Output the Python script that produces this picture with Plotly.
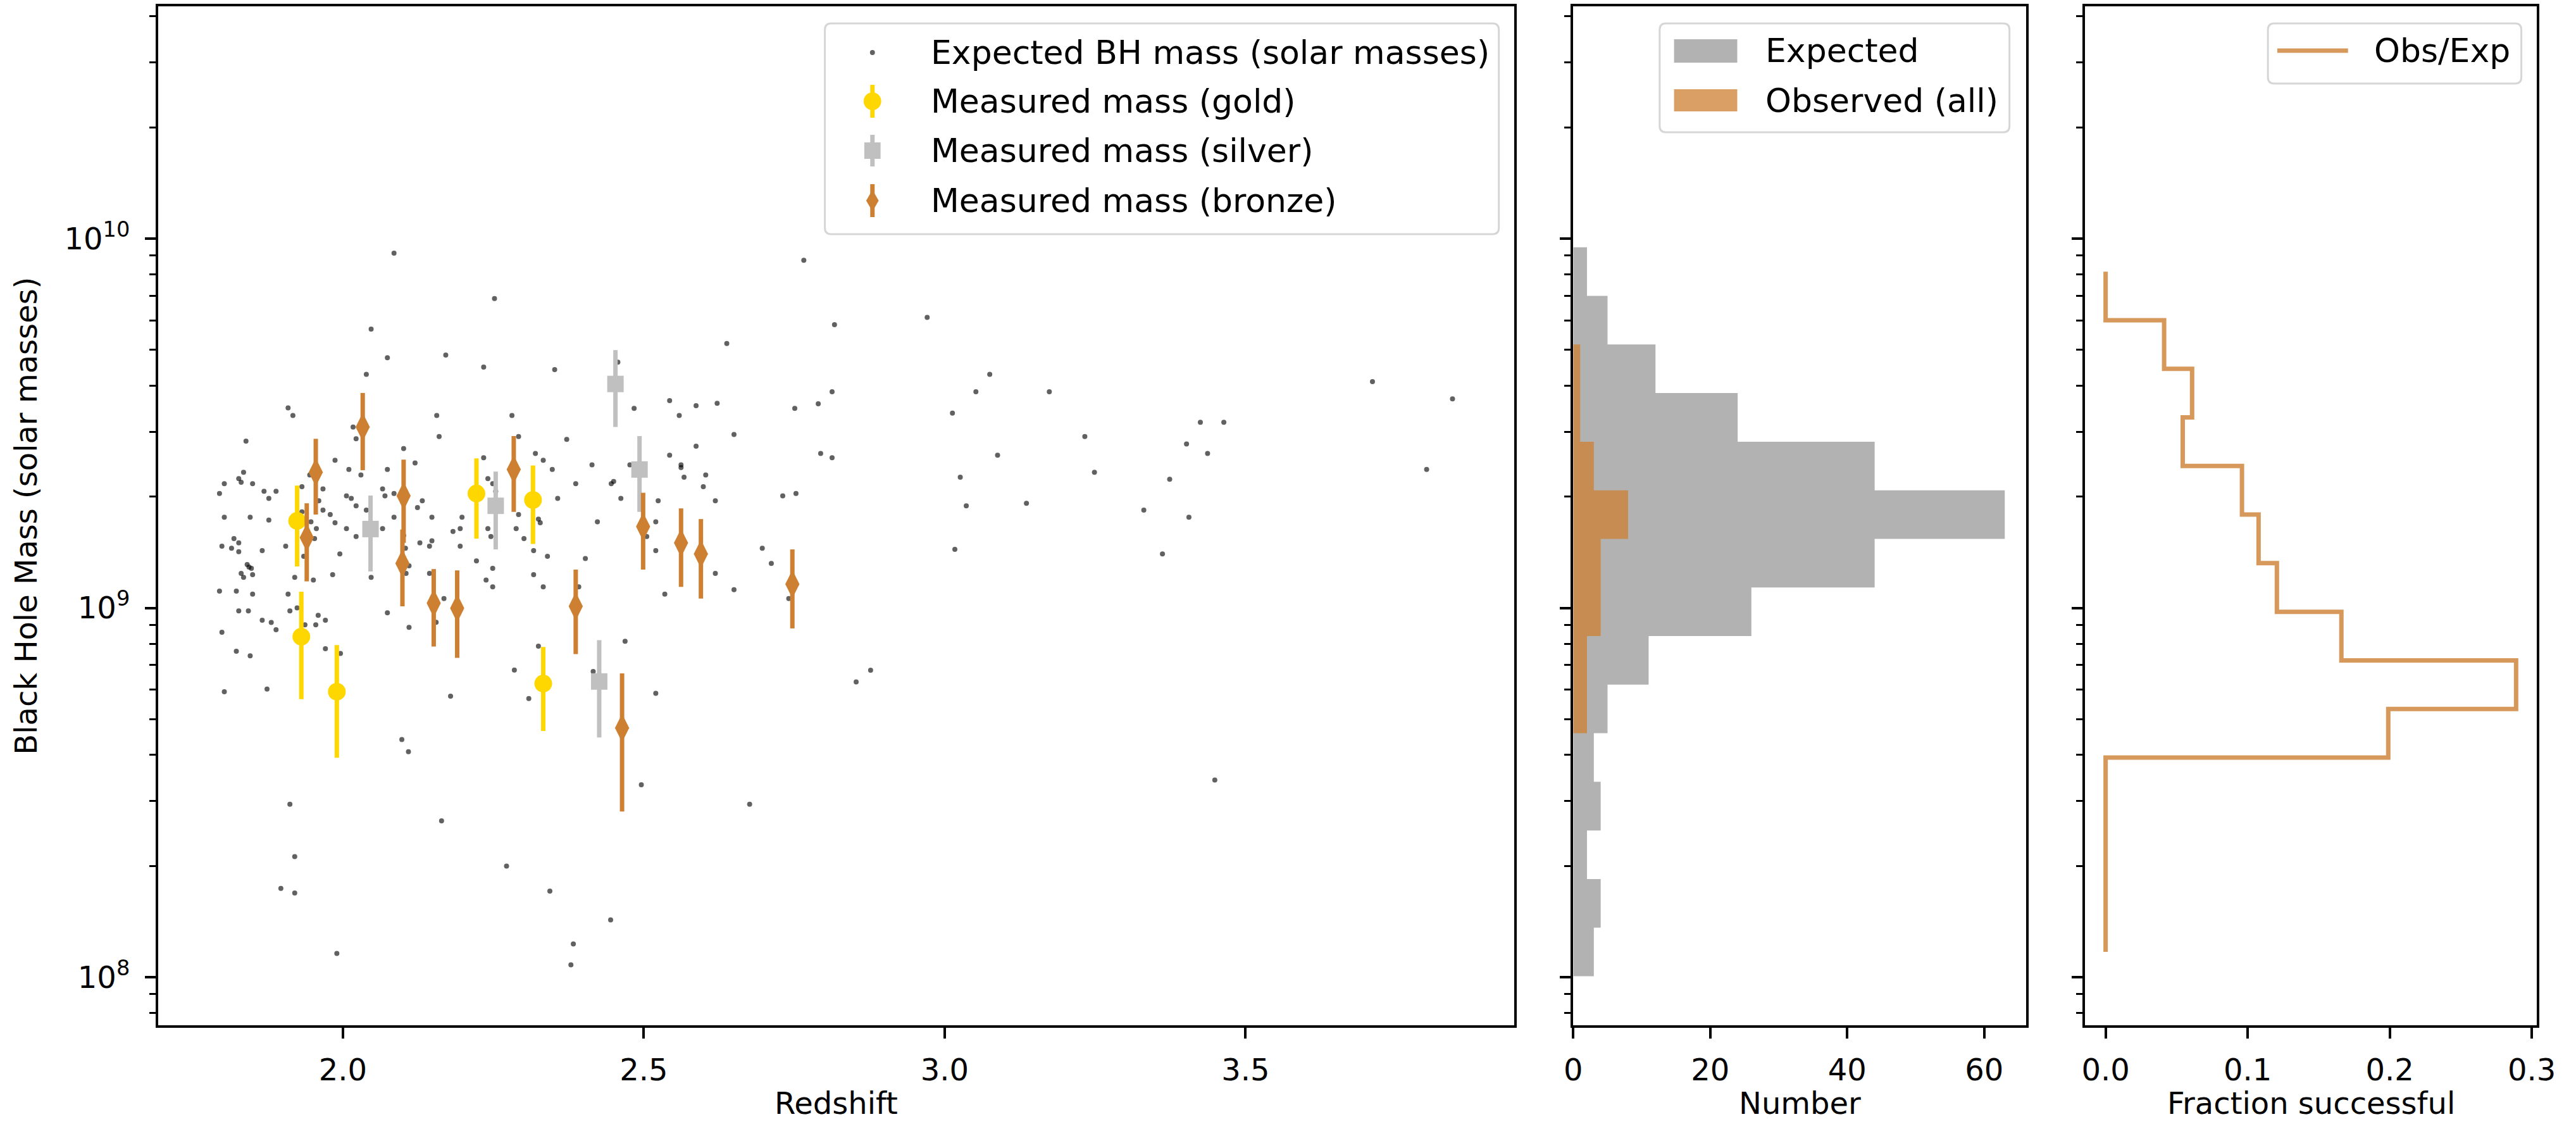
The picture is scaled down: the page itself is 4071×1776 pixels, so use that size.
import plotly.graph_objects as go

W, H = 4071, 1776

# ---------------- data ----------------
# Expected BH masses: redshift and mass (solar masses)
exp_z = [2.252, 2.047, 2.074, 2.171, 2.234, 2.039, 1.909, 1.917, 1.839, 2.156, 2.017, 2.022, 2.160, 2.101,
         1.987, 2.120, 2.234, 1.835, 2.010, 2.074, 2.030, 1.827, 1.831, 1.803, 1.850, 1.945, 1.932, 1.967,
         2.241, 2.249, 2.254, 1.795, 1.869, 1.889, 1.877, 2.066, 2.070, 2.085, 2.006, 2.014, 2.022, 1.960,
         1.967, 1.979, 1.932, 2.132, 2.124, 1.803, 1.846, 1.877, 1.947, 1.987, 2.085, 2.148, 2.198, 2.039,
         1.956, 2.006, 2.022, 2.066, 2.183, 2.195, 2.241, 2.246, 1.819, 1.827, 1.799, 1.815, 1.827, 1.866,
         1.905, 1.953, 1.935, 1.995, 2.128, 2.148, 2.144, 2.195, 2.104, 2.101, 2.222, 2.249, 1.841, 1.844,
         1.848, 1.831, 1.835, 1.850, 1.920, 1.951, 1.983, 2.047, 2.110, 2.105, 2.144, 2.238, 2.249, 1.795,
         1.823, 1.850, 1.909, 2.168, 1.827, 1.843, 1.912, 1.924, 1.959, 1.971, 1.866, 1.881, 1.889, 1.937,
         1.955, 2.074, 2.110, 2.155, 1.799, 1.823, 1.846, 1.971, 1.996, 1.803, 1.874, 2.179, 2.098, 2.109,
         2.638, 2.352, 2.457, 2.543, 2.587, 2.622, 2.484, 2.559, 2.751, 2.281, 2.650, 2.292, 2.372, 2.587,
         2.543, 2.320, 2.333, 2.348, 2.414, 2.562, 2.562, 2.567, 2.603, 2.599, 2.387, 2.446, 2.450, 2.357,
         2.462, 2.524, 2.619, 2.731, 2.753, 2.292, 2.325, 2.328, 2.423, 2.520, 2.477,
         2.288, 2.301, 2.317, 2.340, 2.403, 2.317, 2.333, 2.392, 2.505, 2.520, 2.697, 2.712, 2.619, 2.650,
         2.535, 2.741, 2.469, 2.325, 2.285, 2.309, 2.416, 2.520,
         2.766, 2.817, 2.971, 3.075, 2.813, 3.052, 3.174, 2.790, 3.013, 3.711, 3.844, 3.425, 3.464, 3.233,
         3.402, 3.437, 2.794, 2.813, 3.088, 3.801, 3.026, 3.249, 3.374, 3.036, 3.136, 3.331, 3.406, 3.017,
         3.362, 2.853, 2.877, 3.449, 2.085,
         2.496, 1.912, 2.676, 2.164, 1.920, 2.272, 1.897, 1.920, 2.344, 2.445, 2.383, 1.990, 2.379]
exp_mass = [6.88e9, 5.69e9, 4.76e9, 4.84e9, 4.49e9, 4.29e9, 3.48e9, 3.32e9, 2.83e9, 3.32e9, 3.09e9, 2.87e9, 2.91e9, 2.70e9,
            2.51e9, 2.47e9, 2.55e9, 2.33e9, 2.37e9, 2.37e9, 2.29e9, 2.24e9, 2.19e9, 2.17e9, 2.17e9, 2.29e9, 2.13e9, 2.10e9,
            2.24e9, 2.17e9, 2.07e9, 2.04e9, 2.07e9, 2.07e9, 1.98e9, 2.10e9, 2.01e9, 2.04e9, 2.01e9, 1.98e9, 1.89e9, 1.95e9,
            1.84e9, 1.79e9, 1.82e9, 1.95e9, 1.87e9, 1.76e9, 1.76e9, 1.73e9, 1.71e9, 1.70e9, 1.76e9, 1.76e9, 1.76e9, 1.84e9,
            1.64e9, 1.64e9, 1.56e9, 1.64e9, 1.61e9, 1.64e9, 1.64e9, 1.56e9, 1.54e9, 1.50e9, 1.47e9, 1.45e9, 1.42e9, 1.43e9,
            1.47e9, 1.54e9, 1.38e9, 1.40e9, 1.50e9, 1.52e9, 1.47e9, 1.47e9, 1.45e9, 1.57e9, 1.34e9, 1.28e9, 1.31e9, 1.29e9,
            1.28e9, 1.24e9, 1.21e9, 1.23e9, 1.21e9, 1.19e9, 1.23e9, 1.21e9, 1.30e9, 1.24e9, 1.24e9, 1.19e9, 1.14e9, 1.11e9,
            1.11e9, 1.09e9, 1.09e9, 1.06e9, 9.82e8, 9.82e8, 9.82e8, 1.00e9, 9.55e8, 9.26e8, 9.26e8, 9.13e8, 8.73e8, 9.00e8,
            9.00e8, 9.70e8, 8.86e8, 9.14e8, 8.59e8, 7.63e8, 7.42e8, 7.75e8, 7.53e8, 5.93e8, 6.03e8, 5.77e8, 4.40e8, 4.08e8,
            5.20e9, 4.42e9, 4.63e9, 3.64e9, 3.53e9, 3.58e9, 3.47e9, 3.32e9, 3.47e9, 3.32e9, 2.95e9, 2.91e9, 2.86e9, 2.74e9,
            2.59e9, 2.62e9, 2.51e9, 2.37e9, 2.44e9, 2.44e9, 2.40e9, 2.26e9, 2.29e9, 2.13e9, 2.17e9, 2.17e9, 2.20e9, 1.98e9,
            1.98e9, 1.95e9, 1.95e9, 2.01e9, 2.04e9, 1.79e9, 1.74e9, 1.70e9, 1.71e9, 1.71e9, 2.44e9,
            1.64e9, 1.54e9, 1.43e9, 1.38e9, 1.36e9, 1.23e9, 1.14e9, 1.14e9, 1.56e9, 1.43e9, 1.45e9, 1.32e9, 1.24e9, 1.12e9,
            1.09e9, 1.06e9, 8.12e8, 7.88e8, 6.79e8, 5.68e8, 6.73e8, 5.87e8,
            8.74e9, 5.85e9, 6.12e9, 4.29e9, 3.85e9, 3.85e9, 3.85e9, 3.57e9, 3.37e9, 4.10e9, 3.68e9, 3.18e9, 3.18e9, 2.91e9,
            2.78e9, 2.62e9, 2.62e9, 2.55e9, 2.59e9, 2.37e9, 2.26e9, 2.33e9, 2.23e9, 1.89e9, 1.92e9, 1.84e9, 1.76e9, 1.44e9,
            1.40e9, 6.30e8, 6.78e8, 3.42e8, 9.13e9,
            3.32e8, 2.94e8, 2.94e8, 2.65e8, 2.12e8, 2.00e8, 1.74e8, 1.69e8, 1.71e8, 1.43e8, 1.23e8, 1.16e8, 1.08e8]

# Measured masses
gold_z = [1.924, 1.931, 1.990, 2.222, 2.316, 2.333]
gold_mass = [1.72e9, 8.36e8, 5.93e8, 2.04e9, 1.96e9, 6.24e8]
gold_err = [4.25e8, 2.70e8, 2.00e8, 5.00e8, 4.70e8, 1.60e8]

silver_z = [2.046, 2.254, 2.453, 2.493, 2.426]
silver_mass = [1.635e9, 1.89e9, 4.04e9, 2.37e9, 6.32e8]
silver_err = [3.80e8, 4.50e8, 9.50e8, 5.50e8, 1.86e8]

bronze_z = [1.940, 1.955, 2.033, 2.101, 2.099, 2.151, 2.190, 2.284, 2.387, 2.464, 2.499, 2.562, 2.595, 2.747]
bronze_mass = [1.55e9, 2.33e9, 3.09e9, 2.01e9, 1.32e9, 1.03e9, 9.98e8, 2.37e9, 1.01e9, 4.73e8, 1.66e9, 1.50e9,
               1.40e9, 1.16e9]
bronze_err = [3.7e8, 5.4e8, 7.3e8, 5.1e8, 3.1e8, 2.44e8, 2.66e8, 5.5e8, 2.6e8, 1.92e8, 3.9e8, 3.6e8, 3.4e8, 2.8e8]

# Histogram bins (log10 of mass), counts from low to high mass
bin_edges_log = [8.0026, 8.1342, 8.2658, 8.3974, 8.5290, 8.6606, 8.7921, 8.9237, 9.0553, 9.1869,
                 9.3185, 9.4501, 9.5817, 9.7133, 9.8449, 9.9765]
exp_counts = [3, 4, 2, 4, 3, 5, 11, 26, 44, 63, 44, 24, 12, 5, 2]
obs_counts = [0, 0, 0, 0, 0, 2, 2, 4, 4, 8, 3, 1, 1, 0, 0]

# Fraction successful at each bin centre (low to high mass)
frac = [0.0, 0.0, 0.0, 0.0, 0.199, 0.289, 0.166, 0.1206, 0.1077, 0.096, 0.0543, 0.0609, 0.0412, 0.0, 0.0]

# Tick labels
x_ticks = [2.0, 2.5, 3.0, 3.5]
x_ticklabels = ["2.0", "2.5", "3.0", "3.5"]
y_ticks = [1e8, 1e9, 1e10]
y_ticklabels = ["10<sup>8</sup>", "10<sup>9</sup>", "10<sup>10</sup>"]
n_ticks = [0, 20, 40, 60]
f_ticks = [0.0, 0.1, 0.2, 0.3]

# Legend labels
main_legend_labels = ["Expected BH mass (solar masses)", "Measured mass (gold)",
                      "Measured mass (silver)", "Measured mass (bronze)"]
hist_legend_labels = ["Expected", "Observed (all)"]
frac_legend_labels = ["Obs/Exp"]

# ---------------- styles ----------------
FONT = "DejaVu Sans"
FS = 48
LFS = 52
BRONZE = "#CD7F32"
GOLD = "#FFD700"
SILVER = "#C0C0C0"
DOT = "rgba(0,0,0,0.62)"
EXP_FILL = "rgba(0,0,0,0.3)"
OBS_FILL = "rgba(205,127,50,0.75)"
FRAC_LINE = "rgba(205,127,50,0.8)"

# ---------------- derived ----------------
edges = [10 ** e for e in bin_edges_log]
centers = [10 ** ((bin_edges_log[i] + bin_edges_log[i + 1]) / 2) for i in range(len(bin_edges_log) - 1)]


def hist_poly(counts):
    xs, ys = [0], [edges[0]]
    for i, c in enumerate(counts):
        xs += [c, c]
        ys += [edges[i], edges[i + 1]]
    xs.append(0)
    ys.append(edges[-1])
    return xs, ys


minor_vals = [k * 10 ** e for e in range(7, 11) for k in range(2, 10)]

fig = go.Figure()

fig.add_trace(go.Scatter(
    x=exp_z, y=exp_mass, mode="markers", name=main_legend_labels[0], showlegend=False,
    marker=dict(size=8, color=DOT, line=dict(width=0)), xaxis="x", yaxis="y"))

fig.add_trace(go.Scatter(
    x=gold_z, y=gold_mass, mode="markers", name=main_legend_labels[1], showlegend=False,
    marker=dict(size=28, color=GOLD, symbol="circle", line=dict(width=0)),
    error_y=dict(type="data", array=gold_err, symmetric=True, color=GOLD, thickness=7, width=0),
    xaxis="x", yaxis="y"))

fig.add_trace(go.Scatter(
    x=silver_z, y=silver_mass, mode="markers", name=main_legend_labels[2], showlegend=False,
    marker=dict(size=26, color=SILVER, symbol="square", line=dict(width=0)),
    error_y=dict(type="data", array=silver_err, symmetric=True, color=SILVER, thickness=7, width=0),
    xaxis="x", yaxis="y"))

fig.add_trace(go.Scatter(
    x=bronze_z, y=bronze_mass, mode="markers", name=main_legend_labels[3], showlegend=False,
    marker=dict(size=32, color=BRONZE, symbol="diamond-tall", line=dict(width=0)),
    error_y=dict(type="data", array=bronze_err, symmetric=True, color=BRONZE, thickness=7, width=0),
    xaxis="x", yaxis="y"))

hx, hy = hist_poly(exp_counts)
fig.add_trace(go.Scatter(x=hx, y=hy, mode="none", fill="toself", fillcolor=EXP_FILL,
                         name=hist_legend_labels[0], showlegend=False, xaxis="x2", yaxis="y2"))

ox, oy = hist_poly(obs_counts)
fig.add_trace(go.Scatter(x=ox, y=oy, mode="none", fill="toself", fillcolor=OBS_FILL,
                         name=hist_legend_labels[1], showlegend=False, xaxis="x2", yaxis="y2"))

fig.add_trace(go.Scatter(x=frac, y=centers, mode="lines", line=dict(color=FRAC_LINE, width=7, shape="vh"),
                         name=frac_legend_labels[0], showlegend=False, xaxis="x3", yaxis="y3"))

axis_common = dict(showline=True, linecolor="black", linewidth=4, mirror=True, ticks="outside",
                   ticklen=17, tickwidth=4, tickcolor="black", showgrid=False, zeroline=False,
                   tickfont=dict(family=FONT, size=FS, color="black"))

YDOM = [1 - 1620 / H, 1 - 10 / H]
YR = [7.8698, 10.629]
yaxis_common = dict(axis_common, type="log", range=YR, domain=YDOM, tickmode="array",
                    tickvals=y_ticks, ticktext=y_ticklabels,
                    minor=dict(ticks="outside", ticklen=10, tickwidth=3, tickcolor="black",
                               tickmode="array", tickvals=minor_vals))


# ---------------- legends drawn as layout decorations (pixel layout -> paper) ----------------
def px(x):
    return x / W


def py(y):
    return 1 - y / H


def rrect(x0, y0, x1, y1, r=10):
    P = lambda x, y: f"{px(x):.6f},{py(y):.6f}"
    return (f"M {P(x0 + r, y0)} L {P(x1 - r, y0)} Q {P(x1, y0)} {P(x1, y0 + r)} "
            f"L {P(x1, y1 - r)} Q {P(x1, y1)} {P(x1 - r, y1)} L {P(x0 + r, y1)} "
            f"Q {P(x0, y1)} {P(x0, y1 - r)} L {P(x0, y0 + r)} Q {P(x0, y0)} {P(x0 + r, y0)} Z")


shapes, annots = [], []


def legend_box(x0, y0, x1, y1):
    shapes.append(dict(type="path", path=rrect(x0, y0, x1, y1), xref="paper", yref="paper",
                       fillcolor="rgba(255,255,255,0.8)", line=dict(color="#d6d6d6", width=3), layer="above"))


def legend_text(text, x, y):
    annots.append(dict(text=text, xref="paper", yref="paper", x=px(x), y=py(y), xanchor="left",
                       yanchor="middle", showarrow=False, font=dict(family=FONT, size=LFS, color="black")))


def vline(x, y0, y1, color, w=7):
    shapes.append(dict(type="line", xref="paper", yref="paper", x0=px(x), x1=px(x), y0=py(y0), y1=py(y1),
                       line=dict(color=color, width=w), layer="above"))


# main legend
legend_box(1303, 37, 2380, 370)
mx, rows = 1379, [83, 160, 238, 317]
shapes.append(dict(type="circle", xref="paper", yref="paper", x0=px(mx - 4), x1=px(mx + 4),
                   y0=py(rows[0] + 4), y1=py(rows[0] - 4), fillcolor=DOT, line=dict(width=0), layer="above"))
vline(mx, rows[1] - 26, rows[1] + 26, GOLD)
shapes.append(dict(type="circle", xref="paper", yref="paper", x0=px(mx - 14), x1=px(mx + 14),
                   y0=py(rows[1] + 14), y1=py(rows[1] - 14), fillcolor=GOLD, line=dict(width=0), layer="above"))
vline(mx, rows[2] - 25, rows[2] + 25, SILVER)
shapes.append(dict(type="rect", xref="paper", yref="paper", x0=px(mx - 13), x1=px(mx + 13),
                   y0=py(rows[2] + 13), y1=py(rows[2] - 13), fillcolor=SILVER, line=dict(width=0), layer="above"))
vline(mx, rows[3] - 26, rows[3] + 26, BRONZE)
shapes.append(dict(type="path", xref="paper", yref="paper",
                   path=(f"M {px(mx):.6f},{py(rows[3] - 17):.6f} L {px(mx + 10):.6f},{py(rows[3]):.6f} "
                         f"L {px(mx):.6f},{py(rows[3] + 17):.6f} L {px(mx - 10):.6f},{py(rows[3]):.6f} Z"),
                   fillcolor=BRONZE, line=dict(width=0), layer="above"))
for lab, r in zip(main_legend_labels, rows):
    legend_text(lab, 1470, r)

# histogram legend
legend_box(2637, 37, 3196, 209)
for fill, (ya, yb), lab, r in zip([EXP_FILL, OBS_FILL], [(62, 99), (141, 176)], hist_legend_labels, [80, 159]):
    shapes.append(dict(type="rect", xref="paper", yref="paper", x0=px(2660), x1=px(2761), y0=py(yb), y1=py(ya),
                       fillcolor=fill, line=dict(width=0), layer="above"))
    legend_text(lab, 2804, r)

# fraction legend
legend_box(3609, 37, 4014, 132)
shapes.append(dict(type="line", xref="paper", yref="paper", x0=px(3624), x1=px(3737), y0=py(80), y1=py(80),
                   line=dict(color=FRAC_LINE, width=7), layer="above"))
legend_text(frac_legend_labels[0], 3777, 80)

# axis titles
annots += [
    dict(text="Redshift", xref="paper", yref="paper", x=(237.5 + 2405) / 2 / W, y=py(1743),
         xanchor="center", yanchor="middle", showarrow=False, font=dict(family=FONT, size=FS)),
    dict(text="Number", xref="paper", yref="paper", x=(2499 + 3223) / 2 / W, y=py(1743),
         xanchor="center", yanchor="middle", showarrow=False, font=dict(family=FONT, size=FS)),
    dict(text="Fraction successful", xref="paper", yref="paper", x=(3316.8 + 4039) / 2 / W, y=py(1743),
         xanchor="center", yanchor="middle", showarrow=False, font=dict(family=FONT, size=FS)),
    dict(text="Black Hole Mass (solar masses)", xref="paper", yref="paper", x=px(26), y=py(815),
         xanchor="center", yanchor="middle", textangle=-90, showarrow=False, font=dict(family=FONT, size=FS)),
]

fig.update_layout(
    width=W, height=H, margin=dict(l=0, r=0, t=0, b=0),
    paper_bgcolor="white", plot_bgcolor="white", showlegend=False,
    font=dict(family=FONT, size=FS, color="black"),
    xaxis=dict(axis_common, domain=[237.5 / W, 2405 / W], range=[1.693, 3.947], anchor="y",
               tickmode="array", tickvals=x_ticks, ticktext=x_ticklabels, ticklabelstandoff=8),
    yaxis=dict(yaxis_common, anchor="x", ticklabelstandoff=14),
    xaxis2=dict(axis_common, domain=[2499 / W, 3223 / W], range=[0, 66.15], anchor="y2",
                tickmode="array", tickvals=n_ticks, ticklabelstandoff=8),
    yaxis2=dict(yaxis_common, anchor="x2", matches="y", showticklabels=False),
    xaxis3=dict(axis_common, domain=[3316.8 / W, 4039 / W], range=[-0.01446, 0.3037], anchor="y3",
                tickmode="array", tickvals=f_ticks, tickformat=".1f", ticklabelstandoff=8),
    yaxis3=dict(yaxis_common, anchor="x3", matches="y", showticklabels=False),
    shapes=shapes,
    annotations=annots,
)

fig.write_html("out.html")
